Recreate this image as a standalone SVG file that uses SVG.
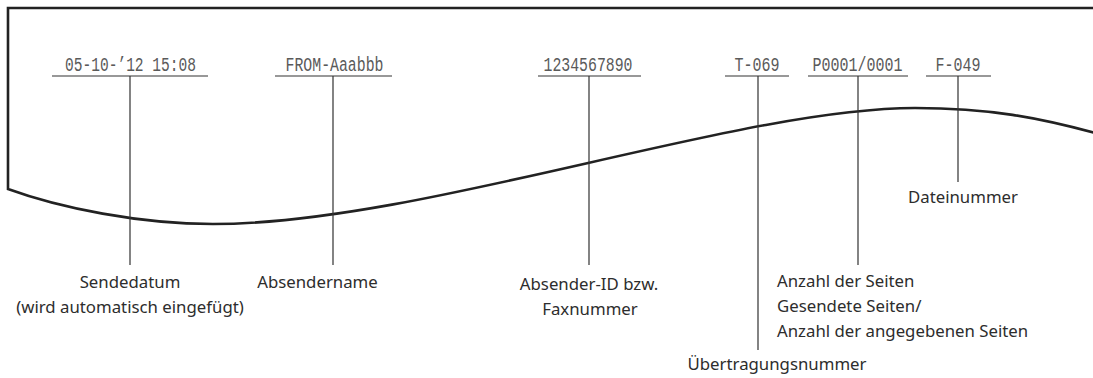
<svg xmlns="http://www.w3.org/2000/svg" width="1093" height="378" viewBox="0 0 1093 378">
<style>
.paper{fill:none;stroke:#222;stroke-width:2.6;stroke-linejoin:miter}
.ln{stroke:#333;stroke-width:1.2;fill:none}
.mono{font-family:"Liberation Mono","DejaVu Sans Mono",monospace;font-size:20px;fill:#5a5a5a;text-anchor:middle}
.lbl{font-family:"Noto Sans","Open Sans",sans-serif;font-size:16.8px;fill:#2d2d2d}
.mid{text-anchor:middle}
</style>
<rect width="1093" height="378" fill="#fff"/>
<g id="paper">
<path class="paper" d="M1095,8 H8 V189 C60,208 140,224 213,224 C420,224 737,108 915,108 C990,108 1040,118 1095,133"/>
</g>
<g id="connectors">
<path class="ln" d="M52,76 H208 M130,76 V265"/>
<path class="ln" d="M275,76 H392 M333,76 V265"/>
<path class="ln" d="M538,76 H641 M589,76 V265"/>
<path class="ln" d="M725,76 H789 M758,76 V350"/>
<path class="ln" d="M808,76 H908 M858,76 V265"/>
<path class="ln" d="M926,76 H991 M958,76 V182"/>
</g>
<g id="n-date">
<text class="mono" x="130.5" y="71" textLength="131" lengthAdjust="spacingAndGlyphs">05-10-’12 15:08</text>
<text class="lbl mid" x="130" y="288">Sendedatum</text>
<text class="lbl mid" x="130" y="313">(wird automatisch eingefügt)</text>
</g>
<g id="n-name">
<text class="mono" x="334.5" y="71" textLength="98" lengthAdjust="spacingAndGlyphs">FROM-Aaabbb</text>
<text class="lbl mid" x="317.5" y="288">Absendername</text>
</g>
<g id="n-id">
<text class="mono" x="588" y="71" textLength="89" lengthAdjust="spacingAndGlyphs">1234567890</text>
<text class="lbl mid" x="589" y="290">Absender-ID bzw.</text>
<text class="lbl mid" x="590" y="315">Faxnummer</text>
</g>
<g id="n-tx">
<text class="mono" x="757" y="71" textLength="45" lengthAdjust="spacingAndGlyphs">T-069</text>
<text class="lbl mid" x="777" y="370">Übertragungsnummer</text>
</g>
<g id="n-pages">
<text class="mono" x="857.5" y="71" textLength="90" lengthAdjust="spacingAndGlyphs">P0001/0001</text>
<text class="lbl" x="777" y="287">Anzahl der Seiten</text>
<text class="lbl" x="777" y="312">Gesendete Seiten/</text>
<text class="lbl" x="777" y="337">Anzahl der angegebenen Seiten</text>
</g>
<g id="n-file">
<text class="mono" x="958" y="71" textLength="45" lengthAdjust="spacingAndGlyphs">F-049</text>
<text class="lbl mid" x="963" y="203">Dateinummer</text>
</g>
</svg>
